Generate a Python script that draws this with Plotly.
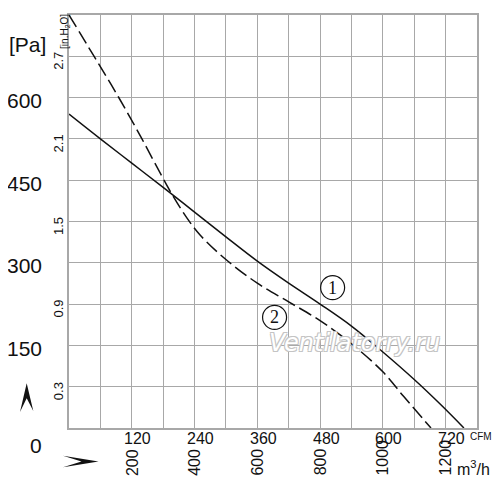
import plotly.graph_objects as go

# fan curves (flow in CFM, pressure in Pa)
curve1_cfm = [0, 60, 120, 180, 240, 300, 360, 420, 480, 540, 600, 660, 710, 755]
curve1_pa = [570, 525, 481, 437, 392, 347, 303, 263, 225, 185, 138, 88, 43, 0]

curve2_cfm = [0, 46, 94, 140, 176, 199, 225, 251, 300, 360, 420, 480, 540, 600, 640, 692]
curve2_pa = [750, 678, 602, 524, 460, 421, 382, 350, 306, 263, 229, 195, 153, 102, 57, 0]

# axis labels
cfm_ticks = [120, 240, 360, 480, 600, 720]
m3h_labels = ["200", "400", "600", "800", "1000", "1200"]
pa_ticks = [600, 450, 300, 150]
inh2o_labels = ["2.7", "2.1", "1.5", "0.9", "0.3"]
inh2o_pos = [675, 525, 375, 225, 75]

# curve markers: (cfm, pa, label)
marks = [(504, 255, "1"), (393, 201, "2")]

FONT = "Liberation Sans, Arial, sans-serif"

# the page body has an 8px margin, so the figure is drawn 8px smaller
OFF = 8
# plot box in page pixels
L, R, T, B = 69, 477, 13, 428
W, H = R - L, B - T


def px(x):
    return (x - L) / W


def py(y):
    return (B - y) / H


def label(x, y, text, size, xref="paper", yref="paper", **kw):
    d = dict(x=x, y=y, xref=xref, yref=yref, text=text, showarrow=False,
             xanchor="center", yanchor="middle",
             font=dict(family=FONT, size=size, color="#111"))
    d.update(kw)
    return d


fig = go.Figure()

fig.add_trace(go.Scatter(
    x=curve1_cfm, y=curve1_pa, mode="lines",
    line=dict(color="#111111", width=1.5, shape="spline", smoothing=1),
    hoverinfo="skip", showlegend=False,
))
fig.add_trace(go.Scatter(
    x=curve2_cfm, y=curve2_pa, mode="lines",
    line=dict(color="#111111", width=1.5, shape="spline", smoothing=1, dash="14px,5px"),
    hoverinfo="skip", showlegend=False,
))

ann = []
# CFM along the bottom
for v in cfm_ticks:
    ann.append(label(v, py(439), str(v), 16, xref="x", xshift=6))
ann.append(label(px(481), py(437), "CFM", 10))
# m3/h rotated labels, bottom-aligned
for v, t in zip(cfm_ticks, m3h_labels):
    ann.append(label(v, py(478), t, 16, xref="x", yanchor="bottom", textangle=-90))
ann.append(label(px(473), py(468), "m<sup>3</sup>/h", 16))
# Pa on the left
for v in pa_ticks:
    ann.append(label(px(44), v, str(v), 21, yref="y", xanchor="right", yshift=-3))
ann.append(label(px(44), py(446), "0", 21, xanchor="right"))
ann.append(label(px(27), py(43), "[Pa]", 21))
# in.H2O rotated labels
for v, t in zip(inh2o_pos, inh2o_labels):
    ann.append(label(px(58.5), v, t, 13, yref="y", textangle=-90, yshift=-5))
ann.append(label(px(65), py(30), "[in.H<sub>2</sub>O]", 10, textangle=-90))
# curve numbers
for cx, cy, t in marks:
    ann.append(label(cx, cy, t, 18, xref="x", yref="y",
                     font=dict(family="Liberation Serif, serif", size=18, color="#111")))
# watermark
ann.append(label(px(354), py(343), "Ventilatorry.ru", 24,
                 font=dict(family="DejaVu Sans", size=24, color="white", style="italic",
                           shadow="-1px -1px 0 #c4c4c4, 1px -1px 0 #c4c4c4, -1px 1px 0 #c4c4c4, 1px 1px 0 #c4c4c4")))

shapes = [
    # up arrow
    dict(type="path", xref="paper", yref="paper", fillcolor="#111", line=dict(width=0),
         path=f"M {px(26.7)} {py(383)} L {px(20)} {py(412)} L {px(26.7)} {py(398)} L {px(33.3)} {py(411)} Z"),
    # right arrow
    dict(type="path", xref="paper", yref="paper", fillcolor="#111", line=dict(width=0),
         path=f"M {px(98.5)} {py(461.7)} L {px(63)} {py(456)} L {px(81.5)} {py(461.7)} L {px(63)} {py(467.5)} Z"),
]
for cx, cy, t in marks:
    shapes.append(dict(type="circle", xref="x", yref="y", xsizemode="pixel", ysizemode="pixel",
                       xanchor=cx, yanchor=cy, x0=-12, x1=12, y0=-12, y1=12,
                       line=dict(color="#111", width=1.2), fillcolor="rgba(0,0,0,0)"))

fig.update_layout(
    width=500 - OFF, height=488 - OFF,
    margin=dict(l=L - OFF, r=500 - R, t=T - OFF, b=488 - B, pad=0),
    plot_bgcolor="white", paper_bgcolor="white",
    annotations=ann, shapes=shapes,
    xaxis=dict(range=[0, 780], dtick=60, tick0=0, showticklabels=False, ticks="",
               showgrid=True, gridcolor="#a8a8a8", gridwidth=1, zeroline=False,
               showline=True, linecolor="#a8a8a8", linewidth=1.5, mirror=True, fixedrange=True),
    yaxis=dict(range=[0, 750], dtick=75, tick0=0, showticklabels=False, ticks="",
               showgrid=True, gridcolor="#a8a8a8", gridwidth=1, zeroline=False,
               showline=True, linecolor="#a8a8a8", linewidth=1.5, mirror=True, fixedrange=True),
)

fig.write_html("out.html")
